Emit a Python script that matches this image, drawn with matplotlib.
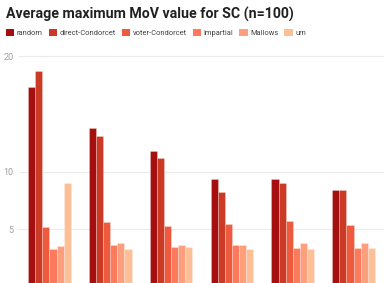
import numpy as np
import matplotlib
matplotlib.use("Agg")
import matplotlib.pyplot as plt

plt.rcParams['font.family'] = ['Roboto', 'DejaVu Sans']

series = ['random', 'direct-Condorcet', 'voter-Condorcet', 'impartial', 'Mallows', 'urn']
colors = ['#a50f0f', '#cb3a24', '#ee5a3e', '#fd7b5c', '#fd9f7d', '#fdbf96']
groups = ['g1', 'g2', 'g3', 'g4', 'g5', 'g6']

random_v = [17.37, 13.76, 11.80, 9.34, 9.34, 8.38]
direct_v = [18.70, 13.12, 11.19, 8.21, 8.99, 8.38]
voter_v = [5.18, 5.64, 5.29, 5.43, 5.70, 5.38]
impartial_v = [3.30, 3.61, 3.50, 3.61, 3.38, 3.38]
mallows_v = [3.53, 3.81, 3.61, 3.61, 3.79, 3.79]
urn_v = [9.05, 3.30, 3.44, 3.27, 3.32, 3.38]
values = [random_v, direct_v, voter_v, impartial_v, mallows_v, urn_v]

fig = plt.figure(figsize=(3.89, 2.83), dpi=100)
ax = fig.add_axes([19/389, 0, 365/389, 1 - 47/283])

x = np.arange(len(groups))
w = 0.117
for i, (name, vals, c) in enumerate(zip(series, values, colors)):
    ax.bar(x + (i - 2.5) * w, vals, width=w, color=c, label=name,
           edgecolor=(1, 1, 1, 0.35), linewidth=0.5)

ax.set_xlim(-0.5, len(groups) - 0.5)
ax.set_ylim(0.35, 20.82)
ax.set_yticks([5, 10, 20])
ax.set_xticks([])
ax.grid(axis='y', color='#ebebeb', linewidth=0.8)
ax.set_axisbelow(True)
for s in ax.spines.values():
    s.set_visible(False)
ax.tick_params(axis='y', length=0, labelsize=6.5, labelcolor='#9e9e9e', pad=4)

fig.text(6/389, 1 - 14/283, 'Average maximum MoV value for SC (n=100)',
         fontsize=10.2, fontweight='bold', va='center', ha='left', color='#212121')
leg = fig.legend(loc='center left', bbox_to_anchor=(6/389, 1 - 33/283), ncol=6,
                 frameon=False, fontsize=5.4, handlelength=1.1, handleheight=1.1,
                 handletextpad=0.36, columnspacing=0.78, borderaxespad=0, borderpad=0)
for t in leg.get_texts():
    t.set_color('#424242')
for h in leg.legend_handles:
    h.set_edgecolor('none')

fig.savefig('out.png', dpi=100)
